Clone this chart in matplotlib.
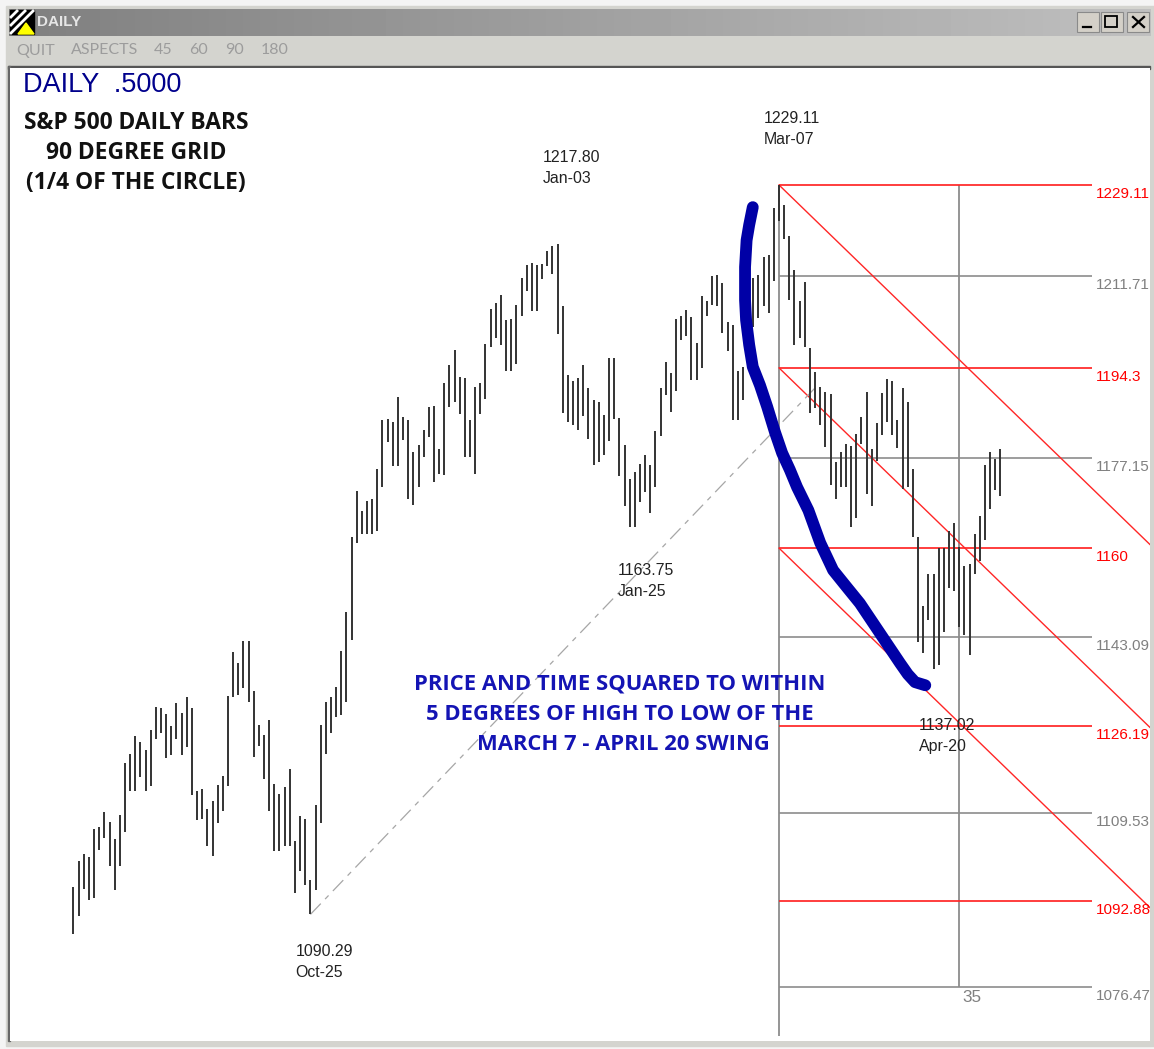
import numpy as np
from matplotlib import pyplot as plt
from matplotlib.patches import Rectangle, Polygon

# S&P 500 daily bars, one pair per trading day
highs = [1095.6, 1100.5, 1101.7, 1101.2, 1106.5, 1107.0, 1109.8, 1107.9, 1104.6, 1109.3,
         1119.2, 1120.8, 1124.2, 1123.1, 1121.5, 1125.3, 1129.8, 1129.6, 1128.4, 1126.1,
         1130.5, 1128.7, 1131.7, 1129.6, 1113.7, 1114.1, 1110.4, 1111.8, 1115.0, 1116.6,
         1131.9, 1140.2, 1138.1, 1142.3, 1142.3, 1132.9, 1126.4, 1124.5, 1127.3, 1115.2,
         1113.2, 1114.6, 1118.0, 1104.2, 1109.0, 1108.4, 1096.8, 1111.2, 1126.4, 1130.7,
         1131.6, 1133.5, 1140.5, 1147.8, 1162.1,
         1170.9, 1167.0, 1169.0, 1169.3, 1175.0, 1184.3, 1184.5, 1184.0, 1188.7, 1185.0,
         1184.3, 1178.3, 1179.7, 1182.5, 1186.8, 1187.1, 1178.9, 1191.5, 1194.9, 1197.8,
         1192.6, 1192.4, 1184.3, 1190.7, 1191.5, 1198.9, 1205.5, 1206.7, 1208.2, 1203.4,
         1203.7, 1206.2, 1211.5, 1213.8, 1214.3, 1213.8, 1214.1, 1216.6, 1217.5, 1217.8,
         1206.0, 1193.0, 1191.9, 1192.4, 1194.9, 1190.4, 1188.2, 1187.9,
         1185.4, 1196.1, 1196.1, 1184.8, 1179.7, 1173.2, 1174.4, 1176.0, 1177.8, 1175.8,
         1182.2, 1190.5, 1195.4, 1193.3, 1203.7, 1204.2, 1205.3, 1203.9, 1199.0, 1207.9,
         1207.1, 1211.8, 1212.0, 1210.4, 1203.0, 1202.5, 1193.8, 1194.4, 1211.0, 1211.5,
         1212.0, 1215.5, 1215.7, 1224.7, 1229.11, 1225.4, 1219.4, 1212.9, 1207.1, 1210.6,
         1198.0, 1193.6, 1190.7, 1189.8, 1189.3, 1176.4, 1178.3, 1179.9, 1179.4, 1181.7,
         1184.9, 1189.8, 1178.9, 1183.8, 1189.6, 1192.1, 1191.9, 1184.3, 1190.5, 1187.9,
         1175.0, 1162.2, 1149.0, 1155.0, 1155.0, 1160.0, 1160.0, 1163.3, 1164.7, 1160.3,
         1156.6, 1156.9, 1162.6, 1166.2, 1175.8, 1178.3, 1176.9, 1178.8]
lows = [1086.6, 1090.0, 1095.1, 1093.0, 1093.5, 1102.6, 1104.8, 1099.5, 1094.9, 1099.5,
        1106.0, 1113.8, 1113.8, 1116.5, 1113.8, 1114.7, 1123.7, 1124.8, 1120.1, 1120.6,
        1123.7, 1120.6, 1122.2, 1113.1, 1108.3, 1108.5, 1103.4, 1101.4, 1107.6, 1109.9,
        1114.7, 1131.6, 1132.1, 1133.3, 1130.8, 1120.3, 1122.3, 1116.1, 1109.9, 1102.3,
        1102.3, 1103.4, 1103.4, 1094.4, 1098.6, 1095.8, 1090.29, 1094.9, 1107.6, 1120.9,
        1124.9, 1127.9, 1128.2, 1130.8, 1142.6,
        1160.9, 1162.7, 1162.7, 1162.7, 1163.2, 1171.7, 1180.2, 1175.6, 1175.6, 1180.5,
        1169.4, 1168.3, 1171.7, 1177.3, 1181.2, 1172.6, 1174.2, 1173.9, 1186.9, 1187.9,
        1185.5, 1177.3, 1177.3, 1174.2, 1185.5, 1188.3, 1198.2, 1199.9, 1198.7, 1193.7,
        1193.7, 1195.0, 1204.1, 1208.9, 1205.2, 1205.2, 1211.2, 1213.7, 1212.1, 1200.8,
        1185.8, 1184.0, 1183.5, 1182.4, 1185.2, 1180.7, 1175.9, 1176.3,
        1177.8, 1180.3, 1184.6, 1173.7, 1168.0, 1164.1, 1164.1, 1168.7, 1170.6, 1166.6,
        1171.7, 1181.3, 1189.1, 1186.0, 1190.0, 1199.6, 1200.4, 1192.0, 1192.0, 1194.2,
        1204.1, 1206.3, 1206.1, 1201.0, 1197.6, 1184.4, 1184.4, 1188.1, 1199.6, 1202.1,
        1203.8, 1206.1, 1204.7, 1210.8, 1222.3, 1218.8, 1207.2, 1198.7, 1199.9, 1198.2,
        1185.8, 1186.6, 1183.4, 1179.3, 1172.0, 1169.4, 1171.7, 1171.7, 1164.1, 1165.7,
        1179.9, 1170.3, 1168.0, 1176.5, 1181.5, 1184.0, 1181.5, 1179.1, 1171.2, 1171.7,
        1162.1, 1142.1, 1140.1, 1146.3, 1137.02, 1137.8, 1144.0, 1152.5, 1151.9, 1144.9,
        1143.4, 1139.6, 1155.1, 1157.6, 1161.5, 1167.5, 1171.1, 1169.9]

# swing labels
swing_bars = [46, 94, 108, 137, 167]
swing_prices = [1090.29, 1217.80, 1163.75, 1229.11, 1137.02]
swing_dates = ['Oct-25', 'Jan-03', 'Jan-25', 'Mar-07', 'Apr-20']

# price grid
red_levels = [1229.11, 1194.3, 1160, 1126.19, 1092.88]
red_labels = ['1229.11', '1194.3', '1160', '1126.19', '1092.88']
gray_levels = [1211.71, 1177.15, 1143.09, 1109.53, 1076.47]
gray_labels = ['1211.71', '1177.15', '1143.09', '1109.53', '1076.47']
grid_start = 137
grid_days = 35
diagonal_rate = 0.95

# the hand drawn stroke
stroke_bars = [131.9, 131.2, 130.7, 130.4, 130.4, 130.6, 131.2, 131.9, 133.3, 134.7, 136.2, 137.6,
               139.1, 140.5, 142.7, 145.0, 147.5, 149.8, 152.7, 156.6, 160.5, 162.0, 163.4, 165.4]
stroke_prices = [1224.9, 1221.5, 1218.6, 1213.5, 1207.2, 1203.4, 1198.7, 1194.5, 1191.0, 1186.9, 1182.1, 1178.1,
                 1174.9, 1171.6, 1167.2, 1161.0, 1155.8, 1153.0, 1149.5, 1143.8, 1138.1, 1136.0, 1134.5, 1133.9]

bars = np.arange(len(highs))
plt.rcParams['font.family'] = ['Liberation Sans', 'DejaVu Sans']

fig = plt.figure(figsize=(11.54, 10.49), dpi=100)

# window frame, in pixels
frame = fig.add_axes([0, 0, 1, 1])
frame.axis('off')
frame.add_patch(Rectangle((0, 0), 1154, 1049, color='#f4f4f4', zorder=0))
frame.add_patch(Rectangle((6, 6), 1148, 1040, color='#d4d4cf', zorder=0))
frame.imshow(np.linspace(0, 1, 200).reshape(1, -1), extent=(9, 1151, 36, 9), cmap='gray',
             vmin=-2, vmax=2, aspect='auto', zorder=0.5)
frame.set_xlim(0, 1154)
frame.set_ylim(1049, 0)
frame.add_patch(Rectangle((8, 66), 1142, 2.5, color='#555555'))
frame.add_patch(Rectangle((8, 66), 2, 975, color='#666666'))

# icon
frame.add_patch(Rectangle((10, 10), 24, 24, color='black'))
for a in [18, 26, 34]:
    frame.plot([10, a], [a, 10], color='white', lw=2, solid_capstyle='butt')
frame.add_patch(Polygon([(18, 34), (34, 34), (26, 23)], color='#ffff00'))
frame.text(37, 22.5, 'DAILY', color='#e6e6e6', fontsize=11, fontweight='bold', va='center')

# buttons
for left in [1077, 1101, 1127]:
    frame.add_patch(Rectangle((left, 12), 22, 20, facecolor='#d4d0c8', edgecolor='#8a8a8a', lw=0.8))
frame.plot([1083, 1091], [27, 27], color='black', lw=1.6)
frame.add_patch(Rectangle((1105, 16), 12, 11, facecolor='none', edgecolor='black', lw=1.3))
frame.plot([1133, 1144], [17, 27], color='black', lw=1.6)
frame.plot([1133, 1144], [27, 17], color='black', lw=1.6)

# menu
for label, left in zip(['QUIT', 'ASPECTS', '45', '60', '90', '180'], [16, 71, 154, 189, 225, 261]):
    frame.text(left, 50.5, label, color='#9c9c9c', fontsize=11.5, va='center', family=['Lato', 'DejaVu Sans'])

# chart area, one bar is 5.15 px and one point is 5.254 px
ax = fig.add_axes([10 / 1154, 8 / 1049, 1140 / 1154, 973 / 1049])
ax.set_xlim(-12.33, 209.03)
ax.set_ylim(1066.2, 1251.38)
ax.set_xticks([])
ax.set_yticks([])
for s in ax.spines.values():
    s.set_visible(False)

grid_right = 197.8
label_left = 198.6

for lev in gray_levels:
    ax.hlines(lev, grid_start, grid_right, color='#8c8c8c', lw=1.2, zorder=1)
for lev in red_levels:
    ax.hlines(lev, grid_start, grid_right, color='#ff2626', lw=1.25, zorder=2)
ax.vlines(grid_start, gray_levels[-1] - 9.3, red_levels[0], color='#8c8c8c', lw=1.3, zorder=1)
ax.vlines(grid_start + grid_days, gray_levels[-1], red_levels[0], color='#8c8c8c', lw=1.3, zorder=1)

# 45 degree lines from the first three levels
xs = np.array([grid_start, 209])
for lev in red_levels[:3]:
    ax.plot(xs, lev - diagonal_rate * (xs - grid_start), color='#ff2626', lw=1.0, zorder=2)

# swing line
ax.plot([swing_bars[0], 144], [swing_prices[0], 1190.5], color='#a6a6a6', lw=0.9,
        dashes=(12, 5, 4, 5), zorder=2)

ax.vlines(bars, lows, highs, color='#333333', lw=1.4, zorder=3)

ax.plot(stroke_bars, stroke_prices, color='#0000a6', lw=8.5, solid_capstyle='round',
        solid_joinstyle='round', zorder=5)

for labels, levels, col in [(red_labels, red_levels, '#ff0000'), (gray_labels, gray_levels, '#808080')]:
    for lab, lev in zip(labels, levels):
        ax.annotate(lab, xy=(label_left, lev), xytext=(0, -9), textcoords='offset pixels', color=col,
                    fontsize=11, va='center', zorder=4)

ax.annotate(str(grid_days), xy=(grid_start + grid_days, gray_levels[-1]), xytext=(3, -10),
            textcoords='offset pixels', color='#808080', fontsize=12.3, va='center', zorder=4)

# swing labels, pixel offsets from the bar they belong to
offsets = [(-15, -37), (-15, 87), (-12, -42), (-15, 67), (-15, -57)]
for b, p, d, off in zip(swing_bars, swing_prices, swing_dates, offsets):
    txt = f'{p:.2f}'
    ax.annotate(txt, xy=(b, p), xytext=off, textcoords='offset pixels', fontsize=11.4,
                color='#222222', va='center', zorder=6)
    ax.annotate(d, xy=(b, p), xytext=(off[0], off[1] - 21), textcoords='offset pixels', fontsize=11.4,
                color='#222222', va='center', zorder=6)

# headings
frame_top = fig.add_axes([0, 0, 1, 1])
frame_top.set_xlim(0, 1154)
frame_top.set_ylim(1049, 0)
frame_top.axis('off')
frame_top.text(23, 84.5, 'DAILY  .5000', color='#00008c', fontsize=19.5, va='center')
for line, cx, y in [('S&P 500 DAILY BARS', 136, 123), ('90 DEGREE GRID', 136, 153), ('(1/4 OF THE CIRCLE)', 136, 183)]:
    frame_top.text(cx, y, line, color='#111111', fontsize=16.4, fontweight='bold', ha='center', va='center',
                   family=['Open Sans', 'DejaVu Sans'])
for line, cx, y in [('PRICE AND TIME SQUARED TO WITHIN', 620, 684), ('5 DEGREES OF HIGH TO LOW OF THE', 620, 714),
                    ('MARCH 7 - APRIL 20 SWING', 623, 744)]:
    frame_top.text(cx, y, line, color='#1414b4', fontsize=15.85, fontweight='bold', ha='center', va='center',
                   family=['Open Sans', 'DejaVu Sans'])

fig.savefig('out.png', dpi=100)
